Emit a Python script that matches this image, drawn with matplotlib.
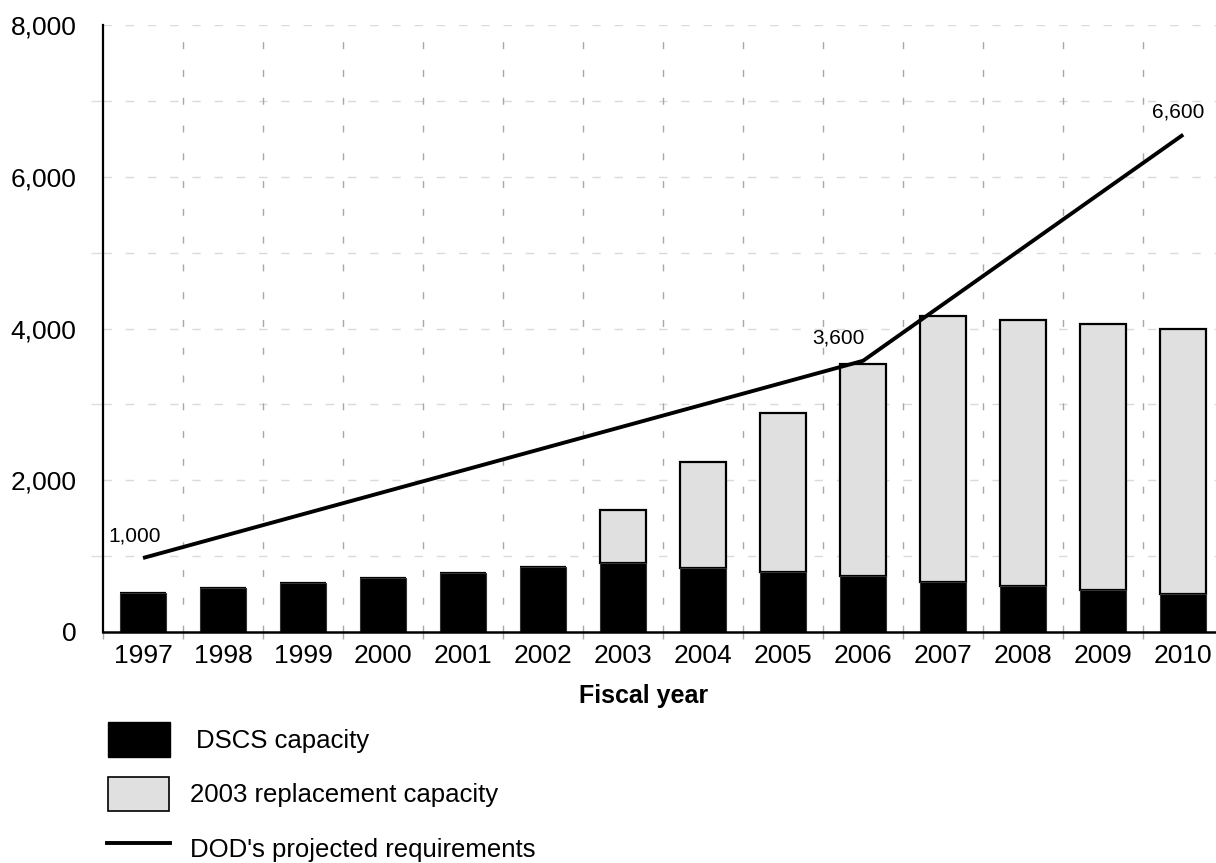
import matplotlib
matplotlib.use("Agg")
import matplotlib.pyplot as plt
from matplotlib.patches import Rectangle
from matplotlib.lines import Line2D
import numpy as np

plt.rcParams['font.family'] = ['Liberation Sans', 'DejaVu Sans']

years = [1997, 1998, 1999, 2000, 2001, 2002, 2003, 2004, 2005, 2006, 2007, 2008, 2009, 2010]
dscs = [510, 580, 645, 711, 782, 852, 905, 848, 795, 738, 659, 610, 553, 501]
total = [None, None, None, None, None, None, 1604, 2245, 2882, 3528, 4169, 4108, 4055, 3993]
req_years = [1997, 2006, 2010]
req_values = [975, 3575, 6555]
req_labels = ["1,000", "3,600", "6,600"]
yticks = [0, 2000, 4000, 6000, 8000]

fig = plt.figure(figsize=(12.16, 8.63), dpi=100)
ax = fig.add_axes([0.0847, 0.2677, 0.9153, 0.7033])

x = np.arange(len(years))
repl = [0 if t is None else t - d for t, d in zip(total, dscs)]

ax.bar(x, repl, bottom=dscs, width=0.58, color='#e0e0e0', edgecolor='black', linewidth=1.6, zorder=3)
ax.bar(x, dscs, width=0.58, color='black', edgecolor='#333333', linewidth=0.8, zorder=3.5)

rx = [years.index(y) for y in req_years]
ax.plot(rx, req_values, color='black', linewidth=2.8, zorder=4, solid_capstyle='butt')

offsets = [(-0.1, 170), (-0.31, 170), (-0.06, 170)]
for xi, v, lab, (dx, dy) in zip(rx, req_values, req_labels, offsets):
    ax.text(xi + dx, v + dy, lab, ha='center', va='bottom', fontsize=15)

ax.set_xlim(-0.5, 13.41)
ax.set_ylim(0, 8000)
ax.set_yticks(yticks)
ax.set_yticklabels([f"{v:,}" for v in yticks], fontsize=19)
ax.set_yticks(np.arange(0, 8001, 1000), minor=True)
ax.set_xticks(x)
ax.set_xticklabels([str(y) for y in years], fontsize=19)
ax.set_xticks(np.arange(-0.5, 13.5, 1.0), minor=True)
ax.tick_params(axis='x', which='major', length=0, pad=9)
ax.tick_params(axis='x', which='minor', length=5, width=1, color='#aaaaaa', direction='out')
ax.tick_params(axis='y', which='major', length=0, pad=19)
ax.tick_params(axis='y', which='minor', length=9, width=1, color='#dddddd', direction='out')

# gridlines
for yv in np.arange(1000, 8001, 1000):
    ax.axhline(yv, color='#dadada', linestyle=(0, (6, 10)), linewidth=1.0, zorder=1)
for xb in np.arange(0.5, 13.5, 1.0):
    ax.axvline(xb, color='#a8a8a8', linestyle=(0, (5, 15)), linewidth=1.0, zorder=1)

for s in ['top', 'right']:
    ax.spines[s].set_visible(False)
ax.spines['left'].set_linewidth(1.6)
ax.spines['bottom'].set_linewidth(1.8)
ax.spines['left'].set_zorder(5)
ax.spines['bottom'].set_zorder(5)

W, H = 1216, 863
def fx(px):
    return px / W
def fy(py):
    return 1 - py / H

fig.text(fx(644), fy(696), "Fiscal year", fontsize=18, fontweight='bold', ha='center', va='center')

# legend drawn manually in figure coords
fig.patches.append(Rectangle((fx(108), fy(757)), fx(170) - fx(108), fy(722) - fy(757),
                             transform=fig.transFigure, facecolor='black', edgecolor='black', linewidth=1))
fig.text(fx(196), fy(741), "DSCS capacity", fontsize=18.5, va='center', ha='left')
fig.patches.append(Rectangle((fx(108), fy(811)), fx(169) - fx(108), fy(777) - fy(811),
                             transform=fig.transFigure, facecolor='#e0e0e0', edgecolor='black', linewidth=1.2))
fig.text(fx(190), fy(795), "2003 replacement capacity", fontsize=18.5, va='center', ha='left')
fig.lines.append(Line2D([fx(107), fx(170)], [fy(843), fy(843)], transform=fig.transFigure,
                        color='black', linewidth=2.8))
fig.text(fx(190), fy(850), "DOD's projected requirements", fontsize=18.5, va='center', ha='left')

fig.savefig("out.png", dpi=100)
